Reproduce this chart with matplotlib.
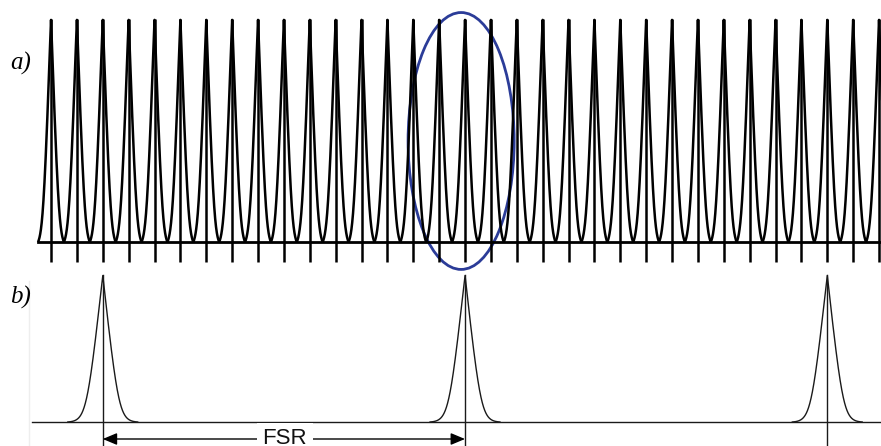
import numpy as np
import matplotlib.pyplot as plt
from matplotlib.patches import Ellipse

# ---- data ----
modes_a = list(range(33))          # longitudinal modes (panel a), in mode-spacing units
peaks_b = [2, 16, 30]              # filter transmission peaks (panel b), same units
panel_labels = ["a)", "b)"]
fsr_label = "FSR"

# ---- figure ----
fig = plt.figure(figsize=(8.81, 4.46), dpi=100)
xmin, xmax = -51 / 25.875, (881 - 51) / 25.875
axa = fig.add_axes([0, 174 / 446, 1, 272 / 446])
axb = fig.add_axes([0, 0, 1, 174 / 446])
for ax in (axa, axb):
    ax.set_xlim(xmin, xmax)
    ax.axis("off")
axa.set_ylim(-30 / 223, 242 / 223)
axb.set_ylim(-24 / 147, 150 / 147)


def peak(x, b, s, half):
    def f(u):
        return s * np.logaddexp(0, (1 - np.abs(u) / b) / s)
    f0, fh = f(0.0), f(half)
    return (f(x) - fh) / (f0 - fh)


# panel a
xs = np.linspace(-0.5, 0.5, 400)
for m in modes_a:
    axa.plot(m + xs, peak(xs, 0.31, 0.25, 0.5), color="black", lw=1.8,
             solid_capstyle="butt")
    axa.plot([m, m], [-20 / 223, 1.0], color="black", lw=1.8, solid_capstyle="butt")
axa.plot([-0.5, xmax], [0, 0], color="black", lw=2.0)
axa.add_patch(Ellipse((15.85, 0.453), 4.10, 1.152, fill=False,
                      edgecolor="#2b3c98", lw=2.0, clip_on=False))
axa.text(10 / 25.875 + xmin, 0.8, panel_labels[0], fontsize=18, family="Liberation Serif",
         style="italic", ha="left", va="center")

# panel b
xb = np.linspace(-1.35, 1.35, 600)
for p in peaks_b:
    axb.plot(p + xb, peak(xb, 0.615, 0.25, 1.35), color="#1a1a1a", lw=1.0)
    axb.plot([p, p], [-0.3, 1.0], color="#1a1a1a", lw=1.0, clip_on=False)
axb.plot([-0.73, xmax], [0, 0], color="#1a1a1a", lw=1.0)
axb.plot([29 / 25.875 + xmin] * 2, [-0.3, 0.96], color="#eeeeee", lw=1.0)
y_arrow = -17 / 147
axb.annotate("", xy=(peaks_b[0], y_arrow), xytext=(peaks_b[1], y_arrow),
             arrowprops=dict(arrowstyle="<|-|>,head_length=0.86,head_width=0.36",
                             color="black", lw=1.0,
                             mutation_scale=10, shrinkA=0, shrinkB=0))
axb.text((peaks_b[0] + peaks_b[1]) / 2 + 0.04, y_arrow, fsr_label, fontsize=16,
         family="Liberation Sans", ha="center", va="center", color="#111111",
         bbox=dict(facecolor="white", edgecolor="none", pad=4))
axb.text(10 / 25.875 + xmin, 0.85, panel_labels[1], fontsize=18, family="Liberation Serif",
         style="italic", ha="left", va="center")

fig.savefig("out.png", dpi=100)
